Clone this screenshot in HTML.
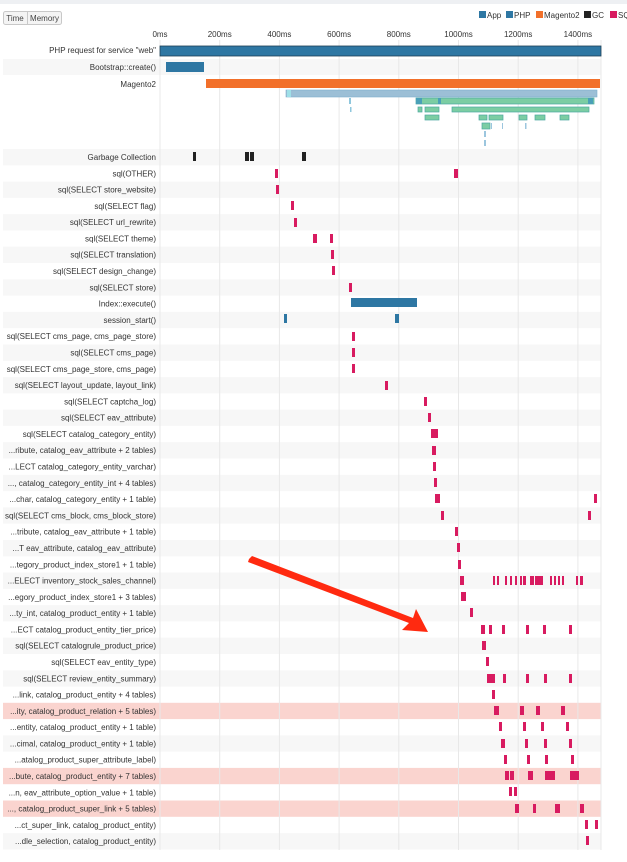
<!DOCTYPE html>
<html><head><meta charset="utf-8"><style>
html,body{margin:0;padding:0;background:#fff;width:627px;height:862px;overflow:hidden}
svg{display:block;font-family:"Liberation Sans",sans-serif}
</style></head><body>
<svg width="627" height="862" viewBox="0 0 627 862">
<rect x="0" y="0" width="627" height="4" fill="#eef0f3"/>
<!-- buttons -->
<rect x="3.5" y="11.5" width="58" height="13" rx="2" fill="#f4f4f4" stroke="#c8c8c8"/>
<line x1="27.5" y1="12" x2="27.5" y2="24" stroke="#c8c8c8"/>
<text x="15" y="21" font-size="8" fill="#444" text-anchor="middle">Time</text>
<text x="44.5" y="21" font-size="8" fill="#444" text-anchor="middle">Memory</text>
<!-- legend -->
<g font-size="8" fill="#333">
<rect x="479" y="11" width="7" height="7" fill="#2e77a3"/><text x="487" y="18">App</text>
<rect x="506" y="11" width="7" height="7" fill="#2e77a3"/><text x="514" y="18">PHP</text>
<rect x="536" y="11" width="7" height="7" fill="#f2702a"/><text x="544" y="18">Magento2</text>
<rect x="584" y="11" width="7" height="7" fill="#222"/><text x="592" y="18">GC</text>
<rect x="610" y="11" width="7" height="7" fill="#d81b60"/><text x="618" y="18">SQL</text>
</g>
<!-- axis labels -->
<g font-size="8" fill="#333" text-anchor="middle">
<text x="160" y="37">0ms</text><text x="219.7" y="37">200ms</text><text x="279.4" y="37">400ms</text>
<text x="339.1" y="37">600ms</text><text x="398.8" y="37">800ms</text><text x="458.5" y="37">1000ms</text>
<text x="518.2" y="37">1200ms</text><text x="577.9" y="37">1400ms</text>
</g>
<!-- stripes -->
<g fill="#f7f7f7">
<rect x="3" y="59" width="598" height="16"/>
<rect x="3" y="149" width="598" height="16.3"/>
<rect x="3" y="181.6" width="598" height="16.3"/>
<rect x="3" y="214.2" width="598" height="16.3"/>
<rect x="3" y="246.7" width="598" height="16.3"/>
<rect x="3" y="279.3" width="598" height="16.3"/>
<rect x="3" y="311.9" width="598" height="16.3"/>
<rect x="3" y="344.5" width="598" height="16.3"/>
<rect x="3" y="377.1" width="598" height="16.3"/>
<rect x="3" y="409.6" width="598" height="16.3"/>
<rect x="3" y="442.2" width="598" height="16.3"/>
<rect x="3" y="474.8" width="598" height="16.3"/>
<rect x="3" y="507.4" width="598" height="16.3"/>
<rect x="3" y="540" width="598" height="16.3"/>
<rect x="3" y="572.5" width="598" height="16.3"/>
<rect x="3" y="605.1" width="598" height="16.3"/>
<rect x="3" y="637.7" width="598" height="16.3"/>
<rect x="3" y="670.3" width="598" height="16.3"/>
<rect x="3" y="735.4" width="598" height="16.3"/>
<rect x="3" y="833.2" width="598" height="16.3"/>
</g>
<g fill="#fad4cf">
<rect x="3" y="702.8" width="598" height="16.3"/>
<rect x="3" y="767.9" width="598" height="16.3"/>
<rect x="3" y="800.5" width="598" height="16.3"/>
</g>
<!-- grid -->
<g stroke="#e8e8e8" stroke-width="1">
<line x1="160" y1="40" x2="160" y2="850"/><line x1="219.7" y1="40" x2="219.7" y2="850"/>
<line x1="279.4" y1="40" x2="279.4" y2="850"/><line x1="339.1" y1="40" x2="339.1" y2="850"/>
<line x1="398.8" y1="40" x2="398.8" y2="850"/><line x1="458.5" y1="40" x2="458.5" y2="850"/>
<line x1="518.2" y1="40" x2="518.2" y2="850"/><line x1="577.9" y1="40" x2="577.9" y2="850"/>
<line x1="601" y1="40" x2="601" y2="850"/>
</g>
<!-- top bars -->
<rect x="160" y="46" width="441" height="10" fill="#2e77a3" stroke="#1d3f55" stroke-width="0.8"/>
<rect x="166" y="62" width="38" height="10" fill="#2e77a3"/>
<rect x="206" y="79" width="394" height="9" fill="#f2702a"/>
<rect x="286" y="90" width="311" height="7" fill="#9cbfd6" stroke="#7fb0cc" stroke-width="0.6"/>
<rect x="287" y="90" width="4" height="7" fill="#9fe0e8"/>
<g fill="#8fc7dd"><rect x="349" y="98" width="2" height="6"/><rect x="350" y="107" width="1.5" height="5"/></g>
<g fill="#7ccda3" stroke="#4aa8a0" stroke-width="0.7">
<rect x="416" y="98" width="178" height="6"/>
<rect x="418" y="107" width="4" height="5"/><rect x="425" y="107" width="14" height="5"/><rect x="452" y="107" width="137" height="5"/>
<rect x="425" y="115" width="14" height="5"/><rect x="479" y="115" width="8" height="5"/><rect x="489" y="115" width="14" height="5"/>
<rect x="519" y="115" width="8" height="5"/><rect x="535" y="115" width="10" height="5"/><rect x="560" y="115" width="9" height="5"/>
<rect x="482" y="123" width="8" height="6"/>
</g>
<g fill="#4aa0b8"><rect x="416" y="98" width="6" height="6"/><rect x="438" y="98" width="3" height="6"/><rect x="588" y="98" width="5" height="6"/></g>
<g fill="#9cc6de"><rect x="491" y="123" width="1" height="6"/><rect x="502" y="123" width="1" height="6"/><rect x="525" y="123" width="1.5" height="6"/>
<rect x="484" y="131" width="2" height="6"/><rect x="484" y="140" width="2" height="6"/></g>
<!-- labels -->
<g font-size="8" fill="#333" text-anchor="end">
<text x="156" y="53">PHP request for service "web"</text>
<text x="156" y="70">Bootstrap::create()</text>
<text x="156" y="87">Magento2</text>
<text x="156" y="160">Garbage Collection</text>
<text x="156" y="176.3">sql(OTHER)</text>
<text x="156" y="192.6">sql(SELECT store_website)</text>
<text x="156" y="208.9">sql(SELECT flag)</text>
<text x="156" y="225.2">sql(SELECT url_rewrite)</text>
<text x="156" y="241.5">sql(SELECT theme)</text>
<text x="156" y="257.7">sql(SELECT translation)</text>
<text x="156" y="274">sql(SELECT design_change)</text>
<text x="156" y="290.3">sql(SELECT store)</text>
<text x="156" y="306.6">Index::execute()</text>
<text x="156" y="322.9">session_start()</text>
<text x="156" y="339.2">sql(SELECT cms_page, cms_page_store)</text>
<text x="156" y="355.5">sql(SELECT cms_page)</text>
<text x="156" y="371.8">sql(SELECT cms_page_store, cms_page)</text>
<text x="156" y="388.1">sql(SELECT layout_update, layout_link)</text>
<text x="156" y="404.4">sql(SELECT captcha_log)</text>
<text x="156" y="420.6">sql(SELECT eav_attribute)</text>
<text x="156" y="436.9">sql(SELECT catalog_category_entity)</text>
<text x="156" y="453.2">...ribute, catalog_eav_attribute + 2 tables)</text>
<text x="156" y="469.5">...LECT catalog_category_entity_varchar)</text>
<text x="156" y="485.8">..., catalog_category_entity_int + 4 tables)</text>
<text x="156" y="502.1">...char, catalog_category_entity + 1 table)</text>
<text x="156" y="518.4">sql(SELECT cms_block, cms_block_store)</text>
<text x="156" y="534.7">...tribute, catalog_eav_attribute + 1 table)</text>
<text x="156" y="551">...T eav_attribute, catalog_eav_attribute)</text>
<text x="156" y="567.3">...tegory_product_index_store1 + 1 table)</text>
<text x="156" y="583.5">...ELECT inventory_stock_sales_channel)</text>
<text x="156" y="599.8">...egory_product_index_store1 + 3 tables)</text>
<text x="156" y="616.1">...ty_int, catalog_product_entity + 1 table)</text>
<text x="156" y="632.4">...ECT catalog_product_entity_tier_price)</text>
<text x="156" y="648.7">sql(SELECT catalogrule_product_price)</text>
<text x="156" y="665">sql(SELECT eav_entity_type)</text>
<text x="156" y="681.3">sql(SELECT review_entity_summary)</text>
<text x="156" y="697.6">...link, catalog_product_entity + 4 tables)</text>
<text x="156" y="713.9">...ity, catalog_product_relation + 5 tables)</text>
<text x="156" y="730.2">...entity, catalog_product_entity + 1 table)</text>
<text x="156" y="746.4">...cimal, catalog_product_entity + 1 table)</text>
<text x="156" y="762.7">...atalog_product_super_attribute_label)</text>
<text x="156" y="779">...bute, catalog_product_entity + 7 tables)</text>
<text x="156" y="795.3">...n, eav_attribute_option_value + 1 table)</text>
<text x="156" y="811.6">..., catalog_product_super_link + 5 tables)</text>
<text x="156" y="827.9">...ct_super_link, catalog_product_entity)</text>
<text x="156" y="844.2">...dle_selection, catalog_product_entity)</text>
</g>
<!-- GC -->
<g fill="#222"><rect x="193" y="152" width="3" height="9"/><rect x="245" y="152" width="4" height="9"/><rect x="250" y="152" width="4" height="9"/><rect x="302" y="152" width="4" height="9"/></g>
<!-- blue rows -->
<g fill="#2e77a3"><rect x="351" y="298" width="66" height="9"/><rect x="284" y="314" width="3" height="9"/><rect x="395" y="314" width="4" height="9"/></g>
<!-- sql bars -->
<g fill="#d81b60">
<rect x="275" y="169" width="3" height="9"/><rect x="454" y="169" width="4" height="9"/>
<rect x="276" y="185" width="3" height="9"/>
<rect x="291" y="201" width="3" height="9"/>
<rect x="294" y="218" width="3" height="9"/>
<rect x="313" y="234" width="4" height="9"/><rect x="330" y="234" width="3" height="9"/>
<rect x="331" y="250" width="3" height="9"/>
<rect x="332" y="266" width="3" height="9"/>
<rect x="349" y="283" width="3" height="9"/>
<rect x="352" y="332" width="3" height="9"/>
<rect x="352" y="348" width="3" height="9"/>
<rect x="352" y="364" width="3" height="9"/>
<rect x="385" y="381" width="3" height="9"/>
<rect x="424" y="397" width="3" height="9"/>
<rect x="428" y="413" width="3" height="9"/>
<rect x="431" y="429" width="7" height="9"/>
<rect x="432" y="446" width="4" height="9"/>
<rect x="433" y="462" width="3" height="9"/>
<rect x="434" y="478" width="3" height="9"/>
<rect x="435" y="494" width="5" height="9"/><rect x="594" y="494" width="3" height="9"/>
<rect x="441" y="511" width="3" height="9"/><rect x="588" y="511" width="3" height="9"/>
<rect x="455" y="527" width="3" height="9"/>
<rect x="457" y="543" width="3" height="9"/>
<rect x="458" y="560" width="3" height="9"/>
<rect x="460" y="576" width="4" height="9"/>
<rect x="493" y="576" width="2" height="9"/><rect x="497" y="576" width="2" height="9"/><rect x="505" y="576" width="2" height="9"/>
<rect x="510" y="576" width="2" height="9"/><rect x="515" y="576" width="2" height="9"/><rect x="520" y="576" width="2" height="9"/>
<rect x="523" y="576" width="3" height="9"/><rect x="530" y="576" width="4" height="9"/><rect x="535" y="576" width="8" height="9"/>
<rect x="550" y="576" width="2" height="9"/><rect x="554" y="576" width="2" height="9"/><rect x="558" y="576" width="2" height="9"/>
<rect x="562" y="576" width="2" height="9"/><rect x="576" y="576" width="2" height="9"/><rect x="580" y="576" width="3" height="9"/>
<rect x="461" y="592" width="5" height="9"/>
<rect x="470" y="608" width="3" height="9"/>
<rect x="481" y="625" width="4" height="9"/><rect x="489" y="625" width="3" height="9"/><rect x="502" y="625" width="3" height="9"/>
<rect x="526" y="625" width="3" height="9"/><rect x="543" y="625" width="3" height="9"/><rect x="569" y="625" width="3" height="9"/>
<rect x="482" y="641" width="4" height="9"/>
<rect x="486" y="657" width="3" height="9"/>
<rect x="487" y="674" width="8" height="9"/><rect x="503" y="674" width="3" height="9"/><rect x="526" y="674" width="3" height="9"/>
<rect x="544" y="674" width="3" height="9"/><rect x="569" y="674" width="3" height="9"/>
<rect x="492" y="690" width="3" height="9"/>
<rect x="494" y="706" width="5" height="9"/><rect x="520" y="706" width="4" height="9"/><rect x="536" y="706" width="4" height="9"/><rect x="561" y="706" width="4" height="9"/>
<rect x="499" y="722" width="3" height="9"/><rect x="523" y="722" width="3" height="9"/><rect x="541" y="722" width="3" height="9"/><rect x="566" y="722" width="3" height="9"/>
<rect x="501" y="739" width="4" height="9"/><rect x="525" y="739" width="3" height="9"/><rect x="544" y="739" width="3" height="9"/><rect x="569" y="739" width="3" height="9"/>
<rect x="504" y="755" width="3" height="9"/><rect x="527" y="755" width="3" height="9"/><rect x="545" y="755" width="3" height="9"/><rect x="571" y="755" width="3" height="9"/>
<rect x="505" y="771" width="4" height="9"/><rect x="510" y="771" width="4" height="9"/><rect x="528" y="771" width="5" height="9"/>
<rect x="545" y="771" width="10" height="9"/><rect x="570" y="771" width="9" height="9"/>
<rect x="509" y="787" width="3" height="9"/><rect x="514" y="787" width="3" height="9"/>
<rect x="515" y="804" width="4" height="9"/><rect x="533" y="804" width="3" height="9"/><rect x="555" y="804" width="5" height="9"/><rect x="580" y="804" width="4" height="9"/>
<rect x="585" y="820" width="3" height="9"/><rect x="595" y="820" width="3" height="9"/>
<rect x="586" y="836" width="3" height="9"/>
</g>
<!-- red arrow -->
<polygon points="249,559 252,556 413,618 416,609 428,632 402,630 409,623 248,562" fill="#ff2a10"/>
</svg>
</body></html>
